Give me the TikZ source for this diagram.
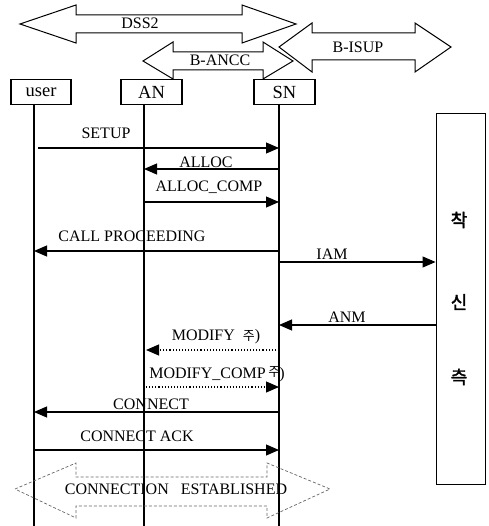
\documentclass[tikz,border=0pt]{standalone}
\usepackage{fontspec}
\setmainfont{Liberation Serif}
\newfontfamily\cjk{Noto Sans CJK KR}
\newfontfamily\cjkb{Noto Sans CJK KR}[FakeBold=2]
\usetikzlibrary{arrows.meta}
\begin{document}
\begin{tikzpicture}[x=1pt,y=-1pt,
  entity/.style={draw,line width=1.2pt,minimum height=25pt,inner sep=0pt,font=\fontsize{18.5}{20}\selectfont},
  lbl/.style={font=\fontsize{16}{18}\selectfont,inner sep=0pt},
  kor/.style={font=\cjkb\fontsize{18}{19}\selectfont,inner sep=0pt},
  life/.style={line width=1.4pt},
  msg/.style={line width=1.1pt,-{Triangle[length=13pt,width=11pt]}},
  dmsg/.style={msg,dotted},
  blk/.style={line width=1pt,line join=miter},
  estab/.style={line width=0.7pt,draw=black!60,dash pattern=on 3pt off 2pt},
  ]
\useasboundingbox (0,0) rectangle (488,526);
% block arrows
\draw[blk] (20,24) -- (76,5) -- (76,15) -- (242,15) -- (242,5) -- (296,24) -- (242,43) -- (242,33) -- (76,33) -- (76,43) -- cycle;
\node[lbl] (dss) at (140,23) {DSS2};
\draw[blk] (143,61) -- (173,42) -- (173,52) -- (263,52) -- (263,42) -- (293,61) -- (263,79) -- (263,70) -- (173,70) -- (173,79) -- cycle;
\node[lbl] (ancc) at (220,60) {B-ANCC};
\draw[blk] (279,47) -- (312,23) -- (312,33) -- (415,33) -- (415,23) -- (451,47) -- (415,72) -- (415,60) -- (312,60) -- (312,72) -- cycle;
\node[lbl] (isup) at (358,47) {B-ISUP};
% entities
\node[entity,minimum width=60pt] (user) at (41,92) {user};
\node[entity,minimum width=61pt] (AN) at (151.5,92) {AN};
\node[entity,minimum width=61pt] (SN) at (284.5,92) {SN};
\node[draw,line width=0.9pt,minimum width=49pt,minimum height=371pt,inner sep=0pt] (callee) at (460.5,298.5) {};
\node[kor] (k1) at (459,220) {착};
\node[kor] (k2) at (459,302) {신};
\node[kor] (k3) at (459,377) {측};
% lifelines
\coordinate (uL) at (34,104);
\coordinate (aL) at (144,104);
\coordinate (sL) at (279,104);
\coordinate (bot) at (0,526);
\draw[life] (uL) -- (uL |- bot);
\draw[life] (aL) -- (aL |- bot);
\draw[life] (sL) -- (sL |- bot);
% rows
\coordinate (r1) at (0,148);
\coordinate (r2) at (0,169);
\coordinate (r3) at (0,202);
\coordinate (r4) at (0,251);
\coordinate (r5) at (0,262);
\coordinate (r6) at (0,325);
\coordinate (r7) at (0,350);
\coordinate (r8) at (0,387);
\coordinate (r9) at (0,412);
\coordinate (r10) at (0,450);
% messages
\draw[msg] ([xshift=4pt]uL |- r1) -- (sL |- r1);
\node[lbl] (m1) at (106,133) {SETUP};
\draw[msg] (sL |- r2) -- (aL |- r2);
\node[lbl] (m2) at (206,162) {ALLOC};
\draw[msg] (aL |- r3) -- (sL |- r3);
\node[lbl] (m3) at (209,187) {ALLOC\_COMP};
\draw[msg] (sL |- r4) -- (uL |- r4);
\node[lbl] (m4) at (132,236) {CALL PROCEEDING};
\draw[msg] (sL |- r5) -- (callee.west |- r5);
\node[lbl] (m5) at (332,254) {IAM};
\draw[msg] (callee.west |- r6) -- (sL |- r6);
\node[lbl] (m6) at (347,317) {ANM};
\draw[dmsg] (sL |- r7) -- ([xshift=2pt]aL |- r7);
\node[lbl] (m7) at (216,337) {MODIFY\ \ {\cjk\fontsize{13}{15}\selectfont 주})};
\draw[dmsg] ([xshift=2pt]aL |- r8) -- (sL |- r8);
\node[lbl] (m8) at (217,374) {MODIFY\_COMP\,\raisebox{2pt}{\cjk\fontsize{13}{15}\selectfont 주}\hspace{-1pt})};
\draw[msg] (sL |- r9) -- (uL |- r9);
\node[lbl] (m9) at (151,404) {CONNECT};
\draw[msg] (uL |- r10) -- (sL |- r10);
\node[lbl] (m10) at (137,436) {CONNECT ACK};
% connection established
\draw[estab] (15,489) -- (76,463) -- (76,477) -- (267,477) -- (267,463) -- (330,489) -- (267,518) -- (267,506) -- (76,506) -- (76,518) -- cycle;
\node[lbl] (est) at (176,489) {CONNECTION\ \ \ ESTABLISHED};
\end{tikzpicture}
\end{document}
